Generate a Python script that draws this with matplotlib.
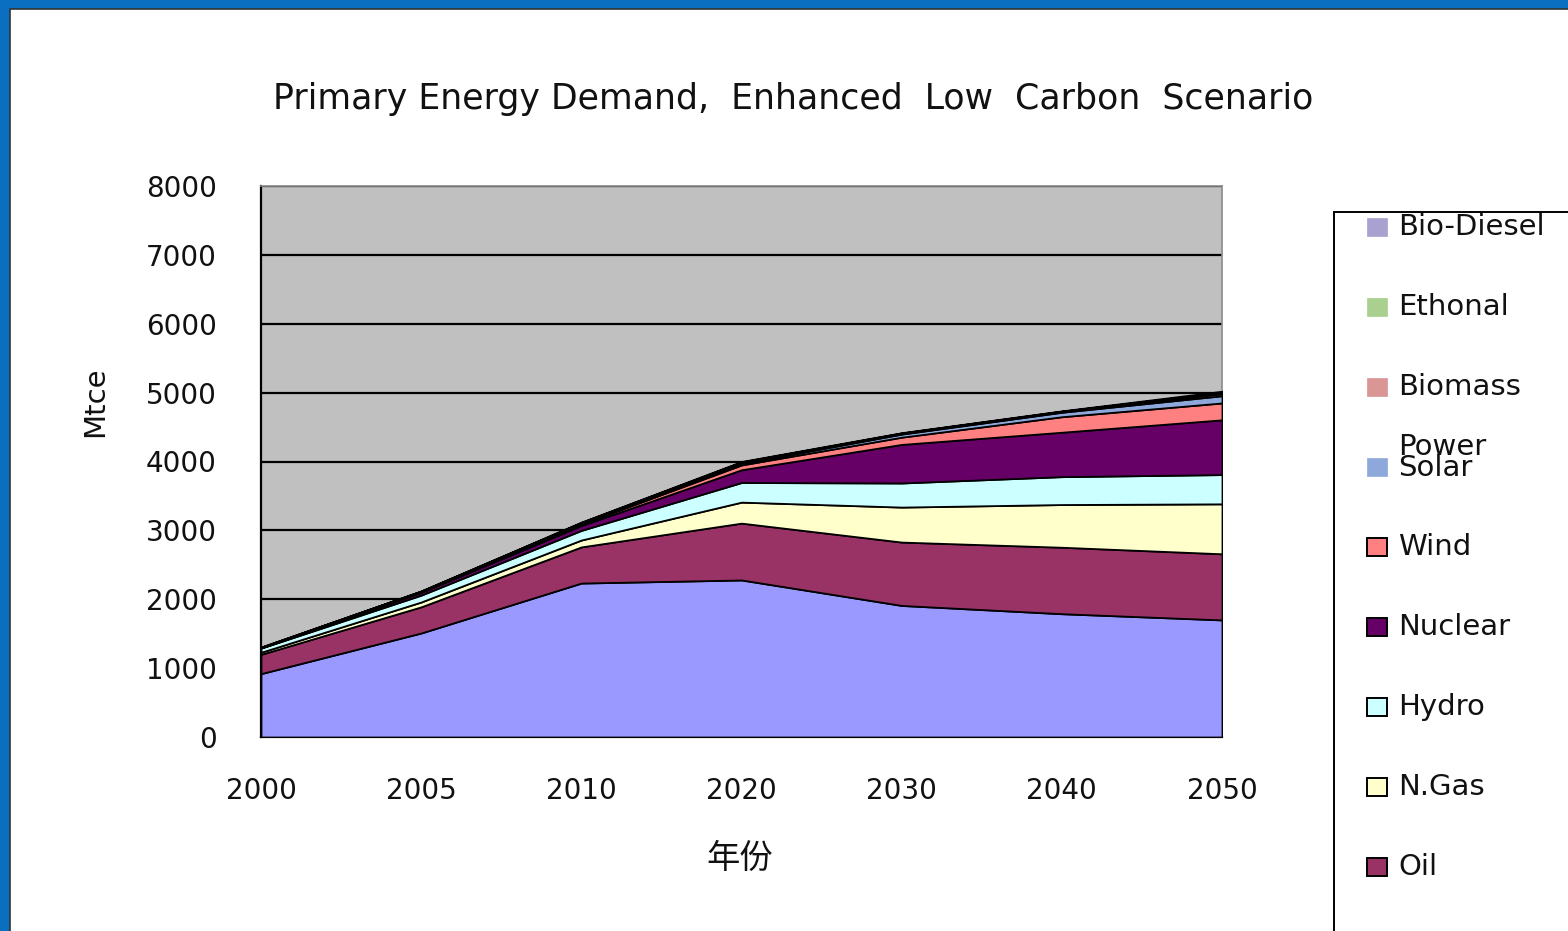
#!/usr/bin/env python3
"""Primary energy demand, enhanced low carbon scenario (stacked area)."""

import matplotlib

matplotlib.use("Agg")
import matplotlib.pyplot as plt
from matplotlib.patches import Rectangle

YEARS = ["2000", "2005", "2010", "2020", "2030", "2040", "2050"]

# Mtce, bottom of the stack first
COAL = [920, 1510, 2235, 2280, 1910, 1790, 1700]
OIL = [280, 380, 525, 825, 920, 965, 960]
N_GAS = [30, 70, 100, 305, 508, 620, 725]
HYDRO = [60, 100, 140, 285, 350, 405, 425]
NUCLEAR = [5, 40, 70, 185, 560, 645, 795]
WIND = [2, 5, 20, 70, 105, 225, 245]
SOLAR_POWER = [1, 2, 5, 20, 45, 65, 105]
BIOMASS = [5, 10, 15, 15, 10, 10, 30]
ETHONAL = [0, 2, 5, 8, 5, 5, 20]
BIO_DIESEL = [0, 1, 5, 7, 5, 5, 15]

SERIES = [
    ("Coal", COAL, "#9999ff", True),
    ("Oil", OIL, "#993366", True),
    ("N.Gas", N_GAS, "#ffffcc", True),
    ("Hydro", HYDRO, "#ccffff", True),
    ("Nuclear", NUCLEAR, "#660066", True),
    ("Wind", WIND, "#ff8080", True),
    ("Solar Power", SOLAR_POWER, "#8fa8dc", False),
    ("Biomass", BIOMASS, "#d99694", False),
    ("Ethonal", ETHONAL, "#a9d08e", False),
    ("Bio-Diesel", BIO_DIESEL, "#a9a2d0", False),
]

W, H = 1568, 931
TXT = "#111111"
fig = plt.figure(figsize=(W / 100, H / 100), dpi=100, facecolor="white")

# blue window frame
fig.patches.append(Rectangle((0, 0), 1, 1, transform=fig.transFigure,
                             facecolor="#0b6fc1", edgecolor="none", zorder=-10))
fig.patches.append(Rectangle((10 / W, -0.01), 1, 1 - 9 / H + 0.01, transform=fig.transFigure,
                             facecolor="white", edgecolor="#333333", linewidth=1.2, zorder=-9))

ax = fig.add_axes([261 / W, 1 - 737 / H, (1222 - 261) / W, (737 - 186) / H])
ax.set_facecolor("#c0c0c0")

x = list(range(len(YEARS)))
ax.stackplot(
    x,
    *[s[1] for s in SERIES],
    colors=[s[2] for s in SERIES],
    edgecolor="black",
    linewidth=1.3,
    zorder=3,
)

ax.set_xlim(0, len(YEARS) - 1)
ax.set_ylim(0, 8000)
ax.set_yticks(range(0, 8001, 1000))
ax.grid(axis="y", color="black", linewidth=1.6, zorder=1)
ax.set_axisbelow(True)

ax.set_xticks(x)
ax.set_xticklabels(YEARS)
ax.tick_params(axis="x", direction="in", length=8, width=1.3, pad=29, labelsize=20,
               labelcolor=TXT)
ax.tick_params(axis="y", length=0, pad=32, labelsize=20, labelcolor=TXT)

for side in ("top", "right"):
    ax.spines[side].set_color("#8a8a8a")
    ax.spines[side].set_linewidth(1.2)
for side in ("left", "bottom"):
    ax.spines[side].set_color("black")
    ax.spines[side].set_linewidth(1.6)

fig.text(793 / W, 1 - 99 / H, "Primary Energy Demand,  Enhanced  Low  Carbon  Scenario",
         ha="center", va="center", fontsize=25, color=TXT)
fig.text(95 / W, 1 - 402 / H, "Mtce", rotation=90, ha="center", va="center",
         fontsize=21, color=TXT)
fig.text(740 / W, 1 - 858 / H, "年份", ha="center", va="center", fontsize=24,
         family=["Noto Sans CJK SC", "DejaVu Sans"], color=TXT)

# legend box, running off the right and bottom edges
fig.patches.append(Rectangle((1334 / W, -0.05), 0.2, 1 - 212 / H + 0.05,
                             transform=fig.transFigure, facecolor="white",
                             edgecolor="black", linewidth=1.4, zorder=1))

top_y = 227
step = 80
for i, (name, _, color, framed) in enumerate(reversed(SERIES)):
    yc = top_y + i * step
    if yc > H - 20:
        continue  # entry falls below the visible window
    fig.patches.append(Rectangle((1367 / W, 1 - (yc + 9) / H), 20 / W, 18 / H,
                                 transform=fig.transFigure, facecolor=color,
                                 edgecolor="black" if framed else color,
                                 linewidth=1.4 if framed else 0.5, zorder=2))
    if name == "Solar Power":
        fig.text(1398 / W, 1 - (yc - 20) / H, "Power", ha="left", va="center",
                 fontsize=21, color=TXT, zorder=3)
        fig.text(1398 / W, 1 - (yc + 1) / H, "Solar", ha="left", va="center",
                 fontsize=21, color=TXT, zorder=3)
    else:
        fig.text(1398 / W, 1 - yc / H, name, ha="left", va="center",
                 fontsize=21, color=TXT, zorder=3)

fig.savefig("out.png", dpi=100, facecolor="white")
